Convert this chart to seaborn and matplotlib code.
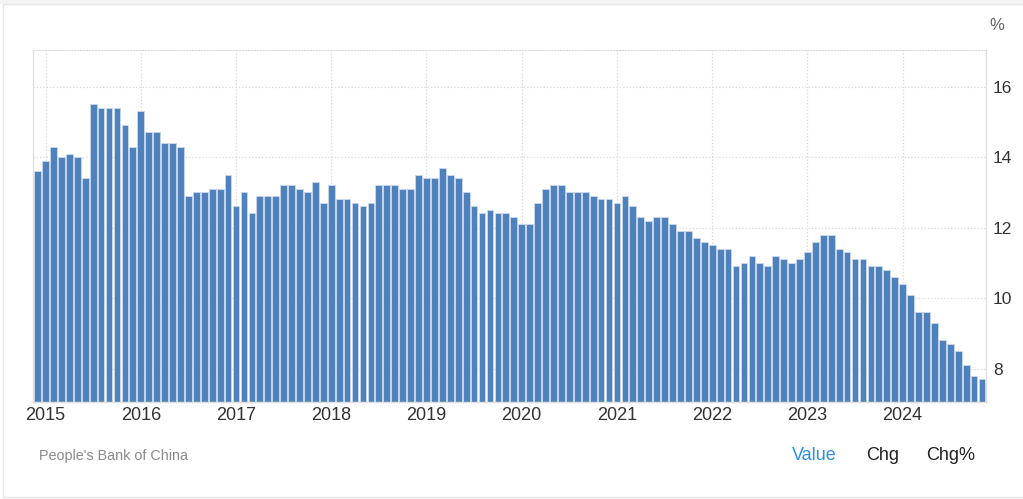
import matplotlib
matplotlib.use("Agg")
import matplotlib.pyplot as plt
import seaborn as sns
import pandas as pd
from matplotlib.patches import Rectangle

# monthly values, Dec 2014 .. Nov 2024 (%)
months = pd.date_range("2014-12-01", "2024-11-01", freq="MS")
loan_growth = [
    13.6,
    13.9, 14.3, 14.0, 14.1, 14.0, 13.4, 15.5, 15.4, 15.4, 15.4, 14.9, 14.3,
    15.3, 14.7, 14.7, 14.4, 14.4, 14.3, 12.9, 13.0, 13.0, 13.1, 13.1, 13.5,
    12.6, 13.0, 12.4, 12.9, 12.9, 12.9, 13.2, 13.2, 13.1, 13.0, 13.3, 12.7,
    13.2, 12.8, 12.8, 12.7, 12.6, 12.7, 13.2, 13.2, 13.2, 13.1, 13.1, 13.5,
    13.4, 13.4, 13.7, 13.5, 13.4, 13.0, 12.6, 12.4, 12.5, 12.4, 12.4, 12.3,
    12.1, 12.1, 12.7, 13.1, 13.2, 13.2, 13.0, 13.0, 13.0, 12.9, 12.8, 12.8,
    12.7, 12.9, 12.6, 12.3, 12.2, 12.3, 12.3, 12.1, 11.9, 11.9, 11.7, 11.6,
    11.5, 11.4, 11.4, 10.9, 11.0, 11.2, 11.0, 10.9, 11.2, 11.1, 11.0, 11.1,
    11.3, 11.6, 11.8, 11.8, 11.4, 11.3, 11.1, 11.1, 10.9, 10.9, 10.8, 10.6,
    10.4, 10.1, 9.6, 9.6, 9.3, 8.8, 8.7, 8.5, 8.1, 7.8, 7.7,
]
year_labels = [str(y) for y in range(2015, 2025)]
y_ticks = [8, 10, 12, 14, 16]

df = pd.DataFrame({"month": months.strftime("%Y-%m"), "value": loan_growth})

sns.set_style("white")
plt.rcParams["font.family"] = ["Liberation Sans", "DejaVu Sans"]

fig = plt.figure(figsize=(10.23, 4.99), dpi=100)
ax = fig.add_axes([33 / 1023, 1 - 402 / 499, 953 / 1023, 352 / 499])

sns.barplot(data=df, x="month", y="value", color="#4f81bd", saturation=1,
            width=0.85, edgecolor="#c9d9ee", linewidth=0.6, ax=ax)

# year ticks on January bars
jan_pos = [i for i, m in enumerate(months) if m.month == 1]
ax.set_xticks(jan_pos)
ax.set_xticklabels(year_labels)
ax.set_xlim(-0.58, 119.5)
ax.set_ylim(7.05, 17.04)
ax.set_yticks(y_ticks)
ax.yaxis.tick_right()
ax.set_xlabel("")
ax.set_ylabel("")
ax.tick_params(axis="x", length=0, pad=3.5, labelsize=13, labelcolor="#333333")
ax.tick_params(axis="y", length=0, pad=5, labelsize=12.5, labelcolor="#333333")

ax.grid(True, axis="both", linestyle=":", color="#d8d8d8", linewidth=0.9)
ax.set_axisbelow(True)
for side in ["left", "right", "bottom"]:
    ax.spines[side].set_visible(True)
    ax.spines[side].set_color("#e0e0e0")
    ax.spines[side].set_linewidth(1)
ax.spines["top"].set_visible(True)
ax.spines["top"].set_linestyle(":")
ax.spines["top"].set_color("#d8d8d8")

fig.text(997 / 1023, 1 - 25 / 499, "%", ha="center", va="center",
         fontsize=12, color="#666666")

# footer
fig.text(39 / 1023, 1 - 456 / 499, "People's Bank of China", ha="left",
         va="center", fontsize=10.4, color="#8a8a8a")
fig.text(792 / 1023, 1 - 456 / 499, "Value", ha="left", va="center",
         fontsize=13, color="#2c8fe6")
fig.text(866 / 1023, 1 - 456 / 499, "Chg", ha="left", va="center",
         fontsize=13, color="#222222")
fig.text(926 / 1023, 1 - 456 / 499, "Chg%", ha="left", va="center",
         fontsize=13, color="#222222")

# light outer frame
fig.patches.append(Rectangle((0, 1 - 4 / 499), 1, 4 / 499, transform=fig.transFigure,
                             facecolor="#f3f3f3", edgecolor="none"))
fig.patches.append(Rectangle((3 / 1023, 2 / 499), 1.1, 1 - 6 / 499,
                             transform=fig.transFigure, fill=False,
                             edgecolor="#e6e6e6", linewidth=1))

fig.savefig("out.png", dpi=100)
